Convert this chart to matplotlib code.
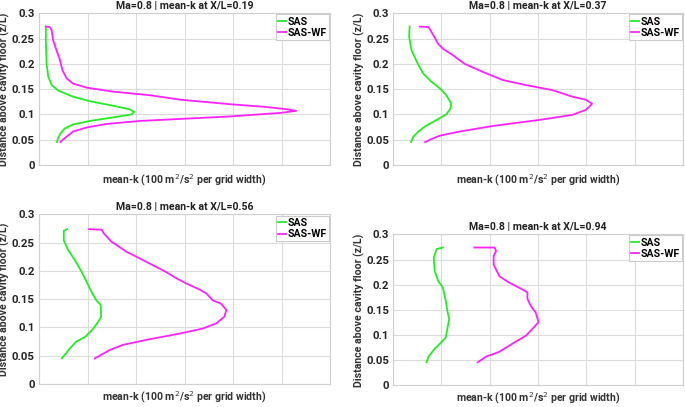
import matplotlib.pyplot as plt
from matplotlib.ticker import FuncFormatter

plt.rcParams['font.family'] = ['Roboto', 'DejaVu Sans']

# Stations along the cavity
stations = ['0.19', '0.37', '0.56', '0.94']

# mean-k profiles, x in grid widths (100 m^2/s^2 per grid), z/L on y
# X/L = 0.19
sas_k_1 = [0.14, 0.14, 0.155, 0.19, 0.26, 0.4, 0.7, 1.05, 1.53, 1.87, 1.96, 1.91, 1.53, 1.05, 0.7, 0.53, 0.44, 0.39, 0.37]
sas_z_1 = [0.274, 0.247, 0.2, 0.175, 0.158, 0.147, 0.135, 0.126, 0.117, 0.11, 0.105, 0.1, 0.094, 0.087, 0.08, 0.072, 0.062, 0.052, 0.045]
wf_k_1 = [0.14, 0.22, 0.26, 0.29, 0.36, 0.43, 0.48, 0.57, 0.7, 0.98, 1.53, 2.28, 2.92, 3.95, 4.64, 5.12, 5.3,
          4.98, 3.95, 2.92, 2.08, 1.39, 0.98, 0.7, 0.57, 0.48, 0.44]
wf_z_1 = [0.274, 0.273, 0.267, 0.247, 0.227, 0.208, 0.188, 0.171, 0.161, 0.153, 0.145, 0.138, 0.129, 0.12, 0.115, 0.11, 0.107,
          0.103, 0.096, 0.091, 0.087, 0.081, 0.074, 0.066, 0.056, 0.049, 0.045]

# X/L = 0.37
sas_k_2 = [0.34, 0.33, 0.38, 0.49, 0.62, 0.79, 0.97, 1.1, 1.2, 1.19, 1.1, 0.9, 0.66, 0.52, 0.42, 0.37]
sas_z_2 = [0.274, 0.254, 0.227, 0.204, 0.181, 0.165, 0.151, 0.138, 0.122, 0.112, 0.1, 0.089, 0.076, 0.066, 0.056, 0.045]
wf_k_2 = [0.55, 0.73, 0.77, 0.83, 0.93, 1.03, 1.24, 1.48, 1.86, 2.27, 2.75, 3.3, 3.71, 3.99, 4.12,
          3.99, 3.71, 3.03, 2.06, 1.38, 0.97, 0.79, 0.66]
wf_z_2 = [0.274, 0.273, 0.267, 0.257, 0.24, 0.23, 0.217, 0.2, 0.184, 0.168, 0.158, 0.148, 0.135, 0.129, 0.121,
          0.109, 0.099, 0.089, 0.077, 0.066, 0.058, 0.051, 0.045]

# X/L = 0.56
sas_k_3 = [0.58, 0.51, 0.51, 0.6, 0.74, 0.88, 0.98, 1.08, 1.18, 1.27, 1.28, 1.22, 1.12, 0.95, 0.77, 0.64, 0.47]
sas_z_3 = [0.274, 0.271, 0.254, 0.237, 0.219, 0.198, 0.181, 0.163, 0.148, 0.14, 0.119, 0.11, 0.098, 0.083, 0.075, 0.063, 0.045]
wf_k_3 = [1.03, 1.29, 1.34, 1.49, 1.8, 2.01, 2.35, 2.62, 2.83, 3.03, 3.31, 3.45, 3.58, 3.75, 3.86, 3.82,
          3.65, 3.38, 2.9, 2.28, 1.73, 1.46, 1.15]
wf_z_3 = [0.274, 0.273, 0.266, 0.252, 0.234, 0.225, 0.21, 0.198, 0.187, 0.178, 0.167, 0.16, 0.148, 0.142, 0.131, 0.119,
          0.107, 0.098, 0.089, 0.079, 0.069, 0.06, 0.045]

# X/L = 0.94
sas_k_4 = [1.03, 0.9, 0.84, 0.86, 0.93, 1.03, 1.09, 1.12, 1.16, 1.12, 1.09, 1.0, 0.86, 0.73, 0.69]
sas_z_4 = [0.274, 0.271, 0.254, 0.227, 0.208, 0.194, 0.168, 0.149, 0.132, 0.112, 0.096, 0.086, 0.073, 0.057, 0.046]
wf_k_4 = [1.68, 2.1, 2.13, 2.08, 2.08, 2.2, 2.37, 2.61, 2.78, 2.78, 2.85, 2.95, 3.01, 2.92, 2.75, 2.47, 2.2, 1.92, 1.75]
wf_z_4 = [0.274, 0.274, 0.267, 0.257, 0.24, 0.217, 0.206, 0.194, 0.185, 0.172, 0.158, 0.145, 0.126, 0.116, 0.099, 0.083, 0.067, 0.057, 0.046]

sas_k = [sas_k_1, sas_k_2, sas_k_3, sas_k_4]
sas_z = [sas_z_1, sas_z_2, sas_z_3, sas_z_4]
wf_k = [wf_k_1, wf_k_2, wf_k_3, wf_k_4]
wf_z = [wf_z_1, wf_z_2, wf_z_3, wf_z_4]

y_ticks = [0, 0.05, 0.1, 0.15, 0.2, 0.25, 0.3]
x_grid = [0, 1, 2, 3, 4, 5, 6]

# axes boxes (left, bottom, width, height) in figure fractions
boxes = [
    [0.057, 0.595, 0.425, 0.372],
    [0.574, 0.595, 0.423, 0.372],
    [0.057, 0.057, 0.425, 0.416],
    [0.574, 0.053, 0.423, 0.371],
]
xpads = [5, 5, 4, 3.5]

fs = 7.6
fig = plt.figure(figsize=(6.85, 4.07), dpi=100)

for i in range(4):
    ax = fig.add_axes(boxes[i])
    ax.plot(sas_k[i], sas_z[i], color='#22ee22', lw=1.3, label='SAS')
    ax.plot(wf_k[i], wf_z[i], color='#ff22ff', lw=1.3, label='SAS-WF')
    ax.set_xlim(0, 6)
    ax.set_ylim(0, 0.3)
    ax.set_xticks(x_grid)
    ax.set_yticks(y_ticks)
    ax.yaxis.set_major_formatter(FuncFormatter(lambda v, p: '%g' % v))
    ax.tick_params(length=0, labelsize=fs + 0.6, labelcolor='#262626', pad=3, labelbottom=False)
    for lab in ax.get_yticklabels():
        lab.set_fontweight('bold')
    ax.grid(True, color='#dcdcdc', lw=0.8)
    for s in ax.spines.values():
        s.set_color('#d0d0d0')
        s.set_linewidth(0.8)
    ax.set_title('Ma=0.8 | mean-k at X/L=' + stations[i], fontsize=fs, fontweight='bold', pad=3, color='#222222')
    ax.set_xlabel('mean-k (100 m$^2$/s$^2$ per grid width)', fontsize=fs, fontweight='bold', labelpad=xpads[i], color='#333333')
    ax.set_ylabel('Distance above cavity floor (z/L)', fontsize=fs, fontweight='bold', labelpad=1, color='#333333')
    leg = ax.legend(loc='upper right', fontsize=fs, handlelength=0.8, handletextpad=0.15, borderaxespad=0.1,
                    borderpad=0.2, labelspacing=0.15, fancybox=False, framealpha=1)
    leg.get_frame().set_edgecolor('#cccccc')
    leg.get_frame().set_linewidth(0.8)
    for t in leg.get_texts():
        t.set_fontweight('bold')

plt.savefig('out.png', dpi=100)
